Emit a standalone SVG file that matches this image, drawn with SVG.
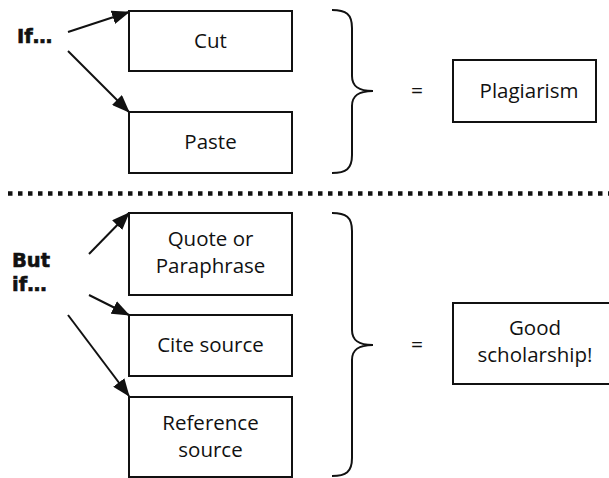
<svg xmlns="http://www.w3.org/2000/svg" width="609" height="478" viewBox="0 0 609 478">
  <style>
    .box { fill: #fff; stroke: #111; stroke-width: 2; }
    .lbl { font-family: "Open Sans", "Liberation Sans", sans-serif; font-size: 20.5px; fill: #111; text-anchor: middle; }
    .cond { font-family: "DejaVu Sans", "Liberation Sans", sans-serif; font-size: 19.5px; font-weight: bold; fill: #111; stroke: #111; stroke-width: 0.6; }
    .brace { fill: none; stroke: #111; stroke-width: 2; }
    .eq { font-family: "Open Sans", "Liberation Sans", sans-serif; font-size: 21px; fill: #111; text-anchor: middle; }
    .arrow { stroke: #111; stroke-width: 2; fill: none; marker-end: url(#head); }
  </style>
  <defs>
    <marker id="head" viewBox="0 0 18 14" refX="17" refY="7" markerWidth="18" markerHeight="14" markerUnits="userSpaceOnUse" orient="auto">
      <path d="M0,0 L18,7 L0,14 Z" fill="#111"/>
    </marker>
  </defs>
  <rect width="609" height="478" fill="#fff"/>

  <!-- condition labels -->
  <text class="cond" x="17" y="43">If…</text>
  <text class="cond" x="12" y="267">But</text>
  <text class="cond" x="12" y="291">if…</text>

  <!-- connectors -->
  <g id="connectors">
    <line class="arrow" x1="68" y1="32" x2="129" y2="12"/>
    <line class="arrow" x1="68" y1="51" x2="129" y2="112"/>
    <line class="arrow" x1="89" y1="254" x2="129" y2="213"/>
    <line class="arrow" x1="89" y1="295" x2="129" y2="315"/>
    <line class="arrow" x1="68" y1="315" x2="129" y2="396"/>
  </g>

  <!-- top section -->
  <g id="cut">
    <rect class="box" x="129" y="11" width="163" height="60"/>
    <text class="lbl" x="210.5" y="48">Cut</text>
  </g>
  <g id="paste">
    <rect class="box" x="129" y="112" width="163" height="61"/>
    <text class="lbl" x="210.5" y="149">Paste</text>
  </g>
  <g id="brace-top">
    <path class="brace" d="M332,10 C346,10 352,14 352,28 L352,76 C352,86 358,91 373,91 C358,91 352,96 352,106 L352,155 C352,169 346,173 332,173"/>
    <text class="eq" x="417" y="98">=</text>
  </g>
  <g id="plagiarism">
    <rect class="box" x="453" y="60" width="143" height="62"/>
    <text class="lbl" x="529" y="98">Plagiarism</text>
  </g>

  <!-- divider -->
  <line x1="8" y1="193.5" x2="609" y2="193.5" stroke="#111" stroke-width="4.5" stroke-dasharray="4.5 5.5"/>

  <!-- bottom section -->
  <g id="quote">
    <rect class="box" x="129" y="213" width="163" height="82"/>
    <text class="lbl" x="210.5" y="246">Quote or</text>
    <text class="lbl" x="210.5" y="273">Paraphrase</text>
  </g>
  <g id="cite">
    <rect class="box" x="129" y="315" width="163" height="61"/>
    <text class="lbl" x="210.5" y="352">Cite source</text>
  </g>
  <g id="reference">
    <rect class="box" x="129" y="397" width="163" height="80"/>
    <text class="lbl" x="210.5" y="430">Reference</text>
    <text class="lbl" x="210.5" y="457">source</text>
  </g>
  <g id="brace-bottom">
    <path class="brace" d="M332,213 C346,213 352,217 352,231 L352,330 C352,340 358,345 373,345 C358,345 352,350 352,360 L352,458 C352,472 346,476 332,476"/>
    <text class="eq" x="417" y="352">=</text>
  </g>
  <g id="scholarship">
    <rect class="box" x="453" y="303" width="160" height="81"/>
    <text class="lbl" x="535" y="335">Good</text>
    <text class="lbl" x="535" y="362">scholarship!</text>
  </g>
</svg>
